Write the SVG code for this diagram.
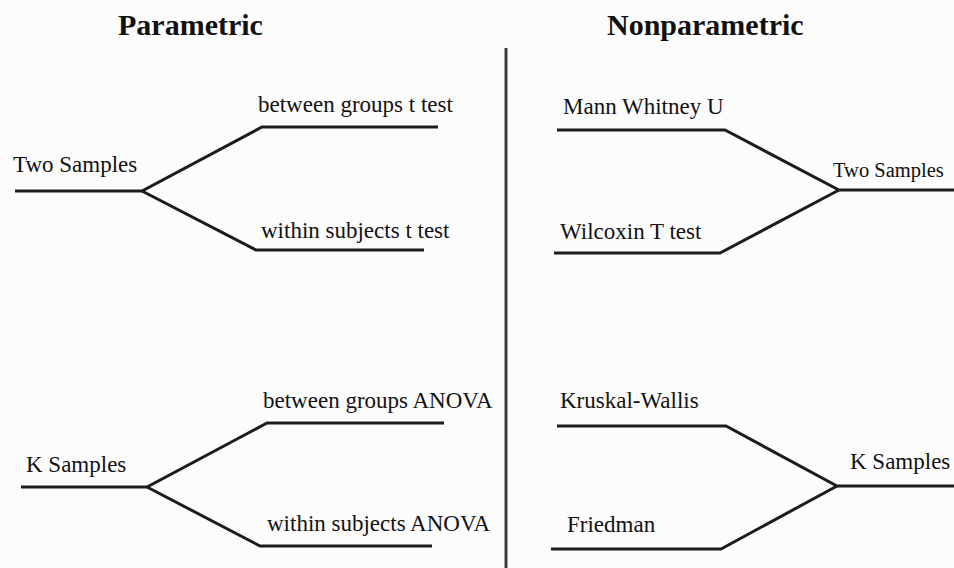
<svg xmlns="http://www.w3.org/2000/svg" width="954" height="568" viewBox="0 0 954 568">
<style>
text{font-family:"Liberation Serif","Times New Roman",serif;fill:#111}
.t{font-size:30px;font-weight:bold}
.l{font-size:23px}
.c{fill:none;stroke:#1c1c1c;stroke-width:3;stroke-linejoin:miter}
.d{stroke:#3a3e46;stroke-width:3}
</style>
<rect width="954" height="568" fill="#fcfcfc"/>
<g id="titles">
<text class="t" x="118" y="35">Parametric</text>
<text class="t" x="607" y="35">Nonparametric</text>
</g>
<g id="divider"><line class="d" x1="506" y1="48" x2="506" y2="568"/></g>
<g id="connectors">
<path class="c" d="M15 191H142L262 127H438"/>
<path class="c" d="M142 191L256 250H424"/>
<path class="c" d="M21 487H147L267 423H444"/>
<path class="c" d="M147 487L260 546H432"/>
<path class="c" d="M557 130H725L839 190H954"/>
<path class="c" d="M554 253H720L839 190"/>
<path class="c" d="M557 426H726L837 486H954"/>
<path class="c" d="M551 549H721L837 486"/>
</g>
<g id="p-two"><text class="l" x="13" y="172">Two Samples</text></g>
<g id="p-between-t"><text class="l" x="258" y="112">between groups t test</text></g>
<g id="p-within-t"><text class="l" x="261" y="238">within subjects t test</text></g>
<g id="p-k"><text class="l" x="26" y="472">K Samples</text></g>
<g id="p-between-anova"><text class="l" x="263" y="408">between groups ANOVA</text></g>
<g id="p-within-anova"><text class="l" x="267" y="531">within subjects ANOVA</text></g>
<g id="n-mann"><text class="l" x="563" y="114">Mann Whitney U</text></g>
<g id="n-wilcoxin"><text class="l" x="560" y="239">Wilcoxin T test</text></g>
<g id="n-two"><text class="l" x="833" y="177" style="font-size:20.5px">Two Samples</text></g>
<g id="n-kruskal"><text class="l" x="560" y="408">Kruskal-Wallis</text></g>
<g id="n-friedman"><text class="l" x="567" y="532">Friedman</text></g>
<g id="n-k"><text class="l" x="850" y="469">K Samples</text></g>
</svg>
